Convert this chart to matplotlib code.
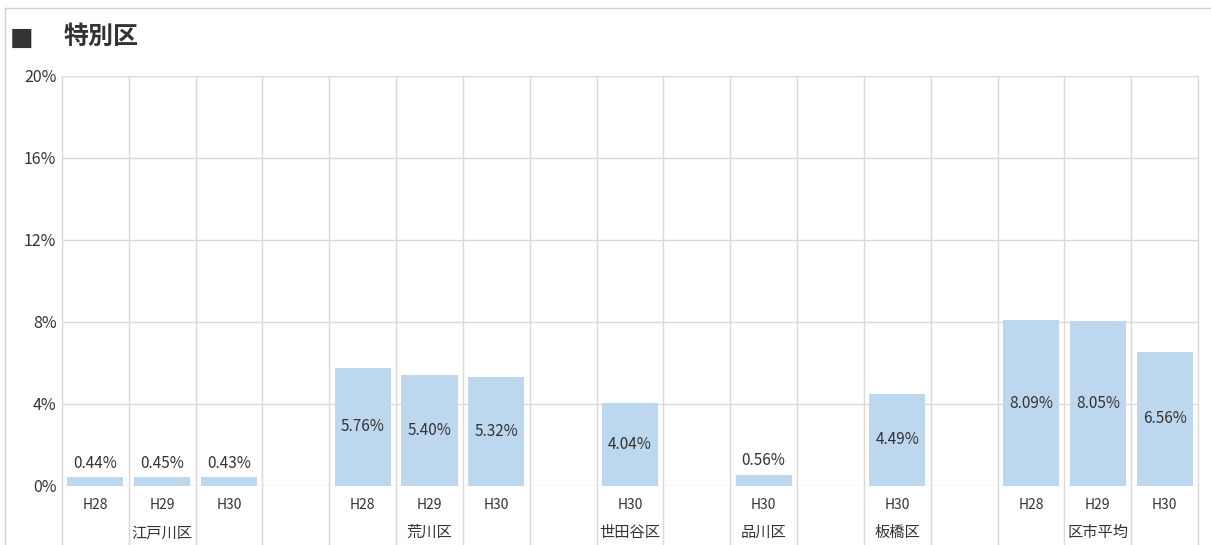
import matplotlib
matplotlib.use("Agg")
import matplotlib.pyplot as plt
from matplotlib.lines import Line2D

plt.rcParams['font.family'] = ['Noto Sans CJK JP', 'DejaVu Sans']

# データ
groups = ['江戸川区', '荒川区', '世田谷区', '品川区', '板橋区', '区市平均']
years = [['H28', 'H29', 'H30'], ['H28', 'H29', 'H30'], ['H30'], ['H30'], ['H30'], ['H28', 'H29', 'H30']]
values = [[0.44, 0.45, 0.43], [5.76, 5.40, 5.32], [4.04], [0.56], [4.49], [8.09, 8.05, 6.56]]
yticks = [0, 4, 8, 12, 16, 20]

bar_color = '#BDD7EE'
grid_color = '#D9D9D9'
text_color = '#333333'

fig = plt.figure(figsize=(12.11, 5.45), dpi=100)
ax = fig.add_axes([62 / 1211, 59 / 545, 1136 / 1211, 410 / 545])

# 位置の計算（グループの間に空きを1つ）
pos = 0
xs, vs, labs, centers = [], [], [], []
for g, ys, vals in zip(groups, years, values):
    start = pos
    for y, v in zip(ys, vals):
        xs.append(pos)
        vs.append(v)
        labs.append(y)
        pos += 1
    centers.append((start + pos - 1) / 2)
    pos += 1
nslots = pos - 1

ax.bar(xs, vs, width=0.84, color=bar_color, zorder=2)

for x, v in zip(xs, vs):
    if v < 1:
        ax.text(x, v + 0.25, f'{v:.2f}%', ha='center', va='bottom', fontsize=11, color=text_color)
    else:
        ax.text(x, v / 2, f'{v:.2f}%', ha='center', va='center', fontsize=11, color=text_color)

ax.set_xlim(-0.5, nslots - 0.5)
ax.set_ylim(0, 20)
ax.set_yticks(yticks)
ax.set_yticklabels([f'{t}%' for t in yticks], fontsize=11.5, color=text_color)
ax.set_xticks([])
ax.tick_params(axis='y', length=0, pad=4)
for s in ax.spines.values():
    s.set_visible(False)

for t in yticks:
    ax.axhline(t, color=grid_color, linewidth=1, zorder=1)
for i in range(nslots + 1):
    ax.axvline(i - 0.5, ymin=-0.145, ymax=1, color=grid_color, linewidth=1, clip_on=False, zorder=1)

# 軸ラベル
trans = ax.get_xaxis_transform()
for x, l in zip(xs, labs):
    ax.text(x, -0.046, l, transform=trans, ha='center', va='center', fontsize=10, color=text_color)
for c, g in zip(centers, groups):
    ax.text(c, -0.114, g, transform=trans, ha='center', va='center', fontsize=11, color=text_color)

# タイトル
fig.text(22 / 1211, 1 - 38 / 545, '■', fontsize=18, color='#333333', va='center', ha='center', family=['DejaVu Sans'])
fig.text(64 / 1211, 1 - 37 / 545, '特別区', fontsize=18, fontweight='bold', color='#333333', va='center')

# 外枠
fig.add_artist(Line2D([5 / 1211, 1], [1 - 8 / 545, 1 - 8 / 545], color='#D0D0D0', linewidth=1))
fig.add_artist(Line2D([5 / 1211, 5 / 1211], [0, 1 - 8 / 545], color='#D0D0D0', linewidth=1))

fig.savefig('out.png', dpi=100)
